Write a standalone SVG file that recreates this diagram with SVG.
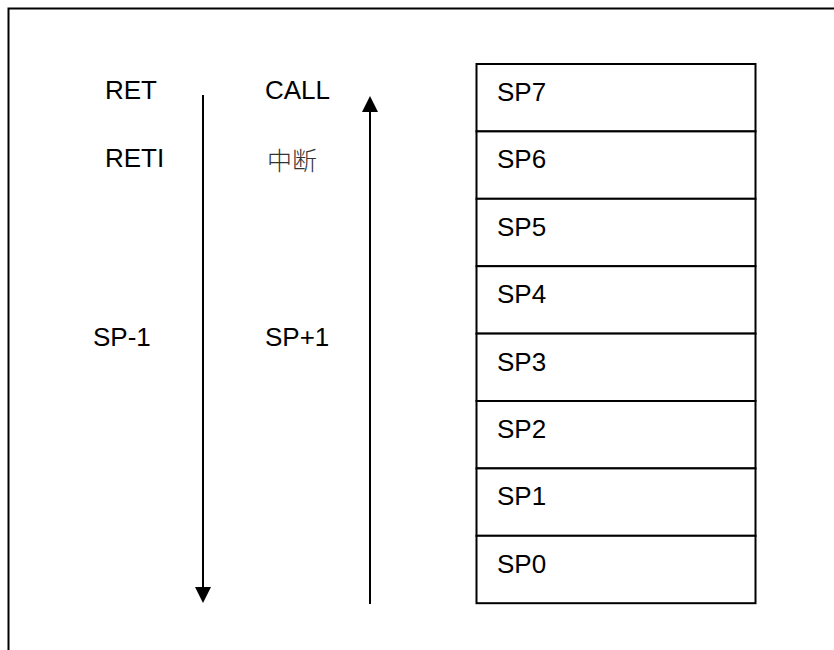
<svg xmlns="http://www.w3.org/2000/svg" width="834" height="650" viewBox="0 0 834 650">
<style>
.t{font-family:"Liberation Sans",Arial,sans-serif;font-size:26px;fill:#000}
.cjk{font-family:"Noto Sans CJK SC","Noto Sans CJK JP",sans-serif;font-size:25px;fill:#333;font-weight:300}
.cell{fill:#fff;stroke:#000;stroke-width:2}
.ln{stroke:#000;stroke-width:2;fill:none}
</style>
<defs>
<marker id="ah" markerUnits="userSpaceOnUse" markerWidth="16" markerHeight="16" refX="3" refY="8" orient="auto" viewBox="0 0 16 16">
<path d="M0,0 L16,8 L0,16 z" fill="#000"/>
</marker>
</defs>
<rect width="834" height="650" fill="#fff"/>
<path id="frame" class="ln" d="M8.5,650 V8.5 H834"/>
<g id="labels">
<text class="t" x="105" y="99">RET</text>
<text class="t" x="105" y="167">RETI</text>
<text class="t" x="93" y="346">SP-1</text>
<text class="t" x="265" y="99">CALL</text>
<text class="cjk" x="267" y="170">中断</text>
<text class="t" x="265" y="346">SP+1</text>
</g>
<g id="connectors">
<line id="down" class="ln" x1="203" y1="95" x2="203" y2="590" marker-end="url(#ah)"/>
<line id="up" class="ln" x1="370" y1="604" x2="370" y2="109" marker-end="url(#ah)"/>
</g>
<g id="sp7"><rect class="cell" x="476.5" y="64" width="279" height="67.4"/><text class="t" x="497" y="101">SP7</text></g>
<g id="sp6"><rect class="cell" x="476.5" y="131.4" width="279" height="67.4"/><text class="t" x="497" y="168.4">SP6</text></g>
<g id="sp5"><rect class="cell" x="476.5" y="198.8" width="279" height="67.4"/><text class="t" x="497" y="235.8">SP5</text></g>
<g id="sp4"><rect class="cell" x="476.5" y="266.2" width="279" height="67.4"/><text class="t" x="497" y="303.2">SP4</text></g>
<g id="sp3"><rect class="cell" x="476.5" y="333.6" width="279" height="67.4"/><text class="t" x="497" y="370.6">SP3</text></g>
<g id="sp2"><rect class="cell" x="476.5" y="401" width="279" height="67.4"/><text class="t" x="497" y="438">SP2</text></g>
<g id="sp1"><rect class="cell" x="476.5" y="468.4" width="279" height="67.4"/><text class="t" x="497" y="505.4">SP1</text></g>
<g id="sp0"><rect class="cell" x="476.5" y="535.8" width="279" height="67.4"/><text class="t" x="497" y="572.8">SP0</text></g>
</svg>
